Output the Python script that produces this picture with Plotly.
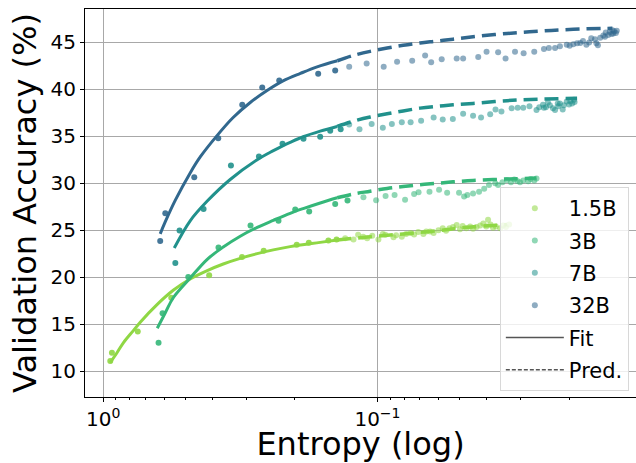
import plotly.graph_objects as go

# ---------------- data ----------------
models = ["1.5B", "3B", "7B", "32B"]
colors = ["#8fd744", "#35b779", "#21918c", "#31688e"]

# 1.5B
h15_fit = [0.943, 0.930, 0.7485, 0.565, 0.411, 0.312, 0.260, 0.197, 0.178, 0.151, 0.141]
a15_fit = [11.07, 11.95, 14.2, 17.8, 20.2, 22.15, 22.8, 23.45, 23.65, 23.9, 24.0]
h15_pred = [0.1311, 0.1223, 0.1176, 0.1128, 0.1090, 0.1045, 0.0992, 0.0956, 0.0936, 0.0874,
            0.0855, 0.0815, 0.0786, 0.0757, 0.0735, 0.0710, 0.0680, 0.0664, 0.0643, 0.0624,
            0.0599, 0.0578, 0.0562, 0.0546, 0.0530, 0.0514, 0.0500, 0.0489, 0.0474, 0.0459,
            0.0448, 0.0435, 0.0422, 0.0411, 0.0401, 0.0395, 0.0387, 0.0379, 0.0370, 0.0357,
            0.0348, 0.0340, 0.0331]
a15_pred = [24.15, 24.0, 24.5, 24.3, 24.15, 24.4, 24.0, 24.6, 24.5, 24.25,
            24.45, 24.3, 24.6, 24.7, 24.55, 24.8, 24.6, 24.85, 24.85, 24.7,
            25.0, 25.2, 24.95, 25.2, 25.35, 25.55, 25.1, 25.45, 25.2, 25.4,
            25.15, 25.35, 25.5, 25.7, 25.4, 26.1, 25.6, 25.25, 25.4, 25.2,
            25.5, 25.35, 25.6]
h15_fitline = [0.943, 0.889, 0.845, 0.777, 0.733, 0.6355, 0.5557, 0.482, 0.4176, 0.3651,
               0.3166, 0.2745, 0.2399, 0.2082, 0.1617, 0.1403]
a15_fitline = [10.9, 12.0, 13.0, 14.3, 15.2, 17.1, 18.6, 19.8, 20.7, 21.4,
               22.0, 22.5, 22.9, 23.25, 23.7, 23.95]
h15_predline = [0.1403, 0.1063, 0.0806, 0.0606, 0.0471, 0.0337]
a15_predline = [23.95, 24.3, 24.6, 24.95, 25.3, 25.6]

# 3B
h3_fit = [0.6287, 0.6078, 0.4898, 0.3800, 0.2904, 0.2296, 0.1995, 0.1774, 0.1426, 0.1286]
a3_fit = [13.0, 16.15, 20.0, 23.15, 25.5, 26.0, 27.2, 27.0, 27.8, 28.15]
h3_pred = [0.1125, 0.1011, 0.0934, 0.0866, 0.0793, 0.0735, 0.0708, 0.0646, 0.0596, 0.0557,
           0.0504, 0.0483, 0.0470, 0.0448, 0.0426, 0.0408, 0.0392, 0.0372, 0.0363, 0.0350,
           0.0337, 0.0326, 0.0317, 0.0309, 0.0302, 0.0294, 0.0282, 0.0276, 0.0268, 0.0263]
a3_pred = [28.5, 28.2, 28.65, 28.75, 28.25, 28.85, 29.05, 29.1, 29.3, 29.0,
           29.0, 28.6, 28.75, 28.9, 29.1, 29.4, 29.8, 30.0, 29.8, 30.1,
           30.35, 30.1, 30.4, 30.25, 30.1, 30.3, 30.2, 30.45, 30.3, 30.5]
h3_fitline = [0.6355, 0.594, 0.5557, 0.482, 0.4176, 0.3651, 0.3166, 0.2745, 0.2399, 0.2082,
              0.1866, 0.1617, 0.1403]
a3_fitline = [14.55, 16.2, 17.8, 19.9, 21.9, 23.2, 24.35, 25.3, 26.05, 26.8,
              27.3, 27.9, 28.45]
h3_predline = [0.1403, 0.1227, 0.1063, 0.0922, 0.0806, 0.0699, 0.0606, 0.0530, 0.0448, 0.0337, 0.0263]
a3_predline = [28.45, 28.85, 29.15, 29.45, 29.65, 29.85, 30.0, 30.15, 30.3, 30.45, 30.55]

# 7B
h7_fit = [0.546, 0.527, 0.4308, 0.3423, 0.2706, 0.2220, 0.1861, 0.1618, 0.1487, 0.1362]
a7_fit = [21.5, 24.96, 27.25, 31.9, 32.85, 34.2, 34.75, 34.95, 35.6, 35.75]
h7_pred = [0.1268, 0.1163, 0.1050, 0.0956, 0.0886, 0.0815, 0.0757, 0.0693, 0.0624, 0.0578,
           0.0531, 0.0487, 0.0448, 0.0419, 0.0388, 0.0371, 0.0353, 0.0324, 0.0308, 0.0294,
           0.0279, 0.0263, 0.0257, 0.0249, 0.0247, 0.0243, 0.0239, 0.0235, 0.0229, 0.0225,
           0.0220, 0.0219, 0.0216, 0.0211, 0.0209, 0.0204, 0.0200, 0.0198, 0.0195, 0.0192,
           0.0191]
a7_pred = [36.25, 35.75, 36.3, 35.9, 36.3, 36.5, 36.5, 36.65, 37.0, 36.8,
           36.85, 37.4, 37.2, 37.0, 37.35, 37.85, 37.65, 38.0, 38.05, 38.05,
           38.2, 37.8, 38.1, 38.35, 38.05, 38.1, 38.6, 38.3, 38.0, 37.8,
           38.5, 38.2, 38.5, 37.85, 38.3, 38.7, 38.4, 38.75, 38.5, 38.9,
           38.65]
h7_fitline = [0.551, 0.482, 0.4176, 0.3444, 0.2745, 0.2460, 0.2207, 0.2082, 0.1866, 0.1617, 0.1403]
a7_fitline = [23.1, 26.0, 28.1, 30.4, 32.5, 33.3, 34.0, 34.35, 34.95, 35.55, 36.05]
h7_predline = [0.1403, 0.1227, 0.1063, 0.0922, 0.0806, 0.0699, 0.0606, 0.0530, 0.0448, 0.0337, 0.0255, 0.0187]
a7_predline = [36.05, 36.6, 37.05, 37.4, 37.7, 38.0, 38.2, 38.35, 38.5, 38.8, 38.95, 39.05]

# 32B
h32_fit = [0.620, 0.594, 0.4657, 0.3808, 0.3113, 0.2632, 0.2282, 0.1645, 0.1426]
a32_fit = [23.86, 26.8, 30.65, 34.8, 38.35, 40.2, 40.95, 41.65, 42.0]
h32_pred = [0.1268, 0.1095, 0.0949, 0.0848, 0.0747, 0.0670, 0.0637, 0.0583, 0.0514, 0.0487,
            0.0429, 0.0400, 0.0363, 0.0341, 0.0315, 0.0293, 0.0268, 0.0247, 0.0237, 0.0225,
            0.0216, 0.0204, 0.0199, 0.0193, 0.0187, 0.0182, 0.0178, 0.0173, 0.0169, 0.0166,
            0.0161, 0.0159, 0.0157, 0.0154, 0.0150, 0.0148, 0.0147, 0.0144, 0.0142, 0.0140,
            0.0139, 0.0138, 0.0137, 0.0135, 0.0134]
a32_pred = [42.4, 42.75, 42.4, 42.95, 43.05, 43.6, 42.9, 43.2, 43.3, 43.3,
            43.45, 44.0, 43.95, 43.3, 44.0, 43.85, 44.0, 44.3, 44.4, 44.4,
            44.6, 44.75, 44.65, 44.8, 44.9, 44.95, 45.15, 44.75, 45.0, 45.45,
            45.35, 44.9, 44.7, 45.5, 45.75, 45.6, 46.05, 45.8, 46.1, 45.9,
            46.3, 45.95, 46.2, 46.0, 46.25]
h32_fitline = [0.620, 0.594, 0.546, 0.482, 0.443, 0.384, 0.336, 0.291, 0.252, 0.221, 0.191, 0.166, 0.140]
a32_fitline = [24.6, 25.9, 28.2, 31.1, 32.8, 35.1, 37.0, 38.6, 39.9, 40.9, 41.7, 42.4, 43.05]
h32_predline = [0.140, 0.1227, 0.1063, 0.0922, 0.0806, 0.0699, 0.0606, 0.0530, 0.0448, 0.0337, 0.0255, 0.0193, 0.0139]
a32_predline = [43.05, 43.6, 44.05, 44.4, 44.7, 44.95, 45.15, 45.35, 45.6, 45.95, 46.2, 46.4, 46.5]

x_tickvals = [1, 0.1]
x_ticktext = ["10<sup>0</sup>", "10<sup>\u22121</sup>"]
x_minor = [0.9, 0.8, 0.7, 0.6, 0.5, 0.4, 0.3, 0.2, 0.09, 0.08, 0.07, 0.06, 0.05, 0.04, 0.03, 0.02]
y_tickvals = [10, 15, 20, 25, 30, 35, 40, 45]

series = [
    (h15_fit, a15_fit, h15_pred, a15_pred, h15_fitline, a15_fitline, h15_predline, a15_predline),
    (h3_fit, a3_fit, h3_pred, a3_pred, h3_fitline, a3_fitline, h3_predline, a3_predline),
    (h7_fit, a7_fit, h7_pred, a7_pred, h7_fitline, a7_fitline, h7_predline, a7_predline),
    (h32_fit, a32_fit, h32_pred, a32_pred, h32_fitline, a32_fitline, h32_predline, a32_predline),
]

fig = go.Figure()
for i, (name, col, s) in enumerate(zip(models, colors, series)):
    hf, af, hp, ap, hfl, afl, hpl, apl = s
    fig.add_trace(go.Scatter(x=hf, y=af, mode="markers", showlegend=False,
                             marker=dict(color=col, size=6, opacity=0.9)))
    fig.add_trace(go.Scatter(x=hp, y=ap, mode="markers", name=name, legendgroup=name,
                             legendrank=i + 1,
                             marker=dict(color=col, size=6, opacity=0.55)))
    fig.add_trace(go.Scatter(x=hfl, y=afl, mode="lines", showlegend=False,
                             line=dict(color=col, width=3, shape="spline")))
    fig.add_trace(go.Scatter(x=hpl, y=apl, mode="lines", showlegend=False,
                             line=dict(color=col, width=3.5, dash="14px,7px", shape="spline")))

fig.add_trace(go.Scatter(x=[None], y=[None], mode="lines", name="Fit", legendgroup="Fit",
                         legendrank=5, line=dict(color="#555555", width=1.5)))
fig.add_trace(go.Scatter(x=[None], y=[None], mode="lines", name="Pred.", legendgroup="Pred",
                         legendrank=6, line=dict(color="#555555", width=1.5, dash="4px,2px")))

fig.update_layout(
    width=636, height=463,
    margin=dict(l=85, r=0, t=9, b=66),
    plot_bgcolor="white", paper_bgcolor="white",
    font=dict(family="DejaVu Sans", color="black"),
    legend=dict(x=0.987, xanchor="right", y=0.541, yanchor="top",
                bgcolor="rgba(255,255,255,0.8)", bordercolor="#d8d8d8", borderwidth=1,
                font=dict(size=21), tracegroupgap=2, itemwidth=58),
)
fig.update_xaxes(
    type="log", range=[0.0667, -1.943],
    tickvals=x_tickvals, ticktext=x_ticktext, tickfont=dict(size=20),
    ticks="outside", ticklen=4, tickwidth=1, tickcolor="black",
    showline=True, linecolor="black", linewidth=1, mirror=True,
    showgrid=True, gridcolor="#a8a8a8", gridwidth=1, zeroline=False,
    minor=dict(tickmode="array", tickvals=x_minor, ticks="outside", ticklen=2,
               tickcolor="black", showgrid=False),
    title=dict(text="Entropy (log)", font=dict(size=32), standoff=10),
)
fig.update_yaxes(
    range=[7.23, 48.56], tickvals=y_tickvals, tickfont=dict(size=20),
    ticks="outside", ticklen=4, tickwidth=1, tickcolor="black",
    showline=True, linecolor="black", linewidth=1, mirror=False,
    showgrid=True, gridcolor="#a8a8a8", gridwidth=1, zeroline=False,
    title=dict(text="Validation Accuracy (%)", font=dict(size=32), standoff=4),
)

fig.write_html("out.html")
